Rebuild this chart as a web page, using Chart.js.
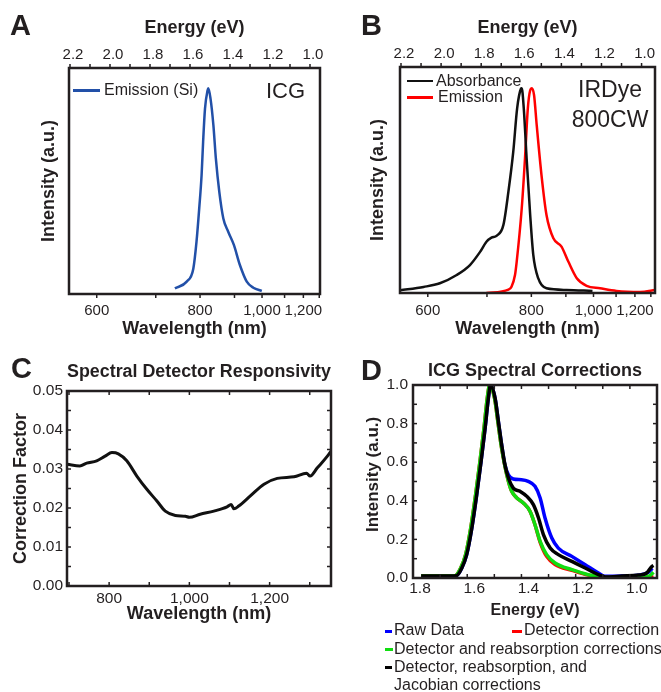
<!DOCTYPE html>
<html>
<head>
<meta charset="utf-8">
<script src="https://cdn.jsdelivr.net/npm/chart.js@4.4.1/dist/chart.umd.min.js"></script>
<style>
  body { margin: 0; background: #fff; width: 661px; height: 692px; position: relative; overflow: hidden;
         font-family: 'Liberation Sans', Arial, sans-serif; color: #231f20; }
  canvas { position: absolute; }
  .txt { position: absolute; white-space: nowrap; line-height: 1; }
  .letter { font-weight: bold; font-size: 29px; }
  .key { position: absolute; }
</style>
</head>
<body>
<canvas id="chartA" width="330" height="345" style="left:0;top:0"></canvas>
<canvas id="chartB" width="331" height="345" style="left:330px;top:0"></canvas>
<canvas id="chartC" width="340" height="290" style="left:0;top:345px"></canvas>
<canvas id="chartD" width="321" height="347" style="left:340px;top:345px"></canvas>

<div class="txt letter" style="left:10px;top:11px">A</div>
<div class="txt letter" style="left:361px;top:11px">B</div>
<div class="txt letter" style="left:11px;top:354px">C</div>
<div class="txt letter" style="left:361px;top:356px">D</div>

<!-- panel A key and label -->
<div class="key" style="left:73px;top:89px;width:27px;height:2.5px;background:#2250a8"></div>
<div class="txt" style="left:104px;top:82px;font-size:16px">Emission (Si)</div>
<div class="txt" style="left:266px;top:80px;font-size:22px">ICG</div>

<!-- panel B key and label -->
<div class="key" style="left:407px;top:79.5px;width:26px;height:2.5px;background:#111"></div>
<div class="txt" style="left:436px;top:73px;font-size:16px">Absorbance</div>
<div class="key" style="left:407px;top:96px;width:26px;height:2.5px;background:#ff0000"></div>
<div class="txt" style="left:438px;top:89px;font-size:16px">Emission</div>
<div class="txt" style="left:560px;top:77.5px;width:100px;text-align:center;font-size:23px">IRDye</div>
<div class="txt" style="left:560px;top:107.5px;width:100px;text-align:center;font-size:23px">800CW</div>

<!-- panel D legend -->
<div class="key" style="left:385px;top:629.5px;width:7px;height:3px;background:#0000ff"></div>
<div class="txt" style="left:394px;top:622px;font-size:16px">Raw Data</div>
<div class="key" style="left:512px;top:629.5px;width:10px;height:3px;background:#ff0000"></div>
<div class="txt" style="left:524px;top:622px;font-size:16px">Detector correction</div>
<div class="key" style="left:385px;top:647.5px;width:8px;height:3px;background:#11dd11"></div>
<div class="txt" style="left:394px;top:641px;font-size:16px">Detector and reabsorption corrections</div>
<div class="key" style="left:385px;top:666px;width:7px;height:3px;background:#000"></div>
<div class="txt" style="left:394px;top:659px;font-size:16px">Detector, reabsorption, and</div>
<div class="txt" style="left:394px;top:677px;font-size:16px">Jacobian corrections</div>

<script>
'use strict';

const HC = 1239.84; // eV*nm, wavelength <-> energy
const INK = '#231f20';

// ---- panel A: ICG emission (Si detector)
const waveA = [740, 767, 783, 791, 798, 804, 808, 813, 820, 822, 828, 836, 843, 853, 865, 880, 898, 918, 942, 966, 999];
const emisA = [0.013, 0.046, 0.11, 0.243, 0.41, 0.571, 0.735, 0.9, 0.99, 1.0, 0.949, 0.818, 0.654, 0.489, 0.358, 0.292, 0.227, 0.128, 0.046, 0.016, 0.0];

// ---- panel B: IRDye 800CW
const waveAbsB = [562, 594, 618, 645, 668, 687, 699, 709, 720, 734, 745, 756, 765, 774, 776, 781, 788, 797, 805, 818, 841, 902, 996];
const absB = [0.003, 0.02, 0.038, 0.079, 0.128, 0.194, 0.243, 0.263, 0.273, 0.326, 0.49, 0.687, 0.901, 0.997, 1.0, 0.9, 0.655, 0.375, 0.178, 0.063, 0.013, 0.005, 0.0];
const waveEmB = [699, 745, 752, 760, 764, 776, 784, 791, 797, 801, 807, 814, 827, 841, 861, 886, 908, 937, 973, 1027, 1102, 1230, 1335];
const emB = [-0.01, 0.007, 0.021, 0.079, 0.145, 0.408, 0.655, 0.9, 0.99, 1.0, 0.967, 0.819, 0.572, 0.375, 0.26, 0.219, 0.145, 0.063, 0.025, 0.013, 0.0, -0.005, 0.005];

// shared axes of A and B
const energyTicks = [2.2, 2.1, 2.0, 1.9, 1.8, 1.7, 1.6, 1.5, 1.4, 1.3, 1.2, 1.1, 1.0];
const energyLabels = [2.2, 2.0, 1.8, 1.6, 1.4, 1.2, 1.0];
const waveTicks = [600, 700, 800, 900, 1000, 1100, 1200, 1300];
const waveLabels = [600, 800, 1000, 1200];

// ---- panel C: detector responsivity
const waveC = [696, 727, 744, 769, 790, 807, 823, 844, 869, 894, 919, 940, 965, 990, 1000, 1027, 1061, 1094, 1104, 1111, 1123, 1152, 1186, 1219, 1261, 1292, 1301, 1319, 1344, 1353];
const corrC = [0.0312, 0.0308, 0.0315, 0.0321, 0.0333, 0.0342, 0.0339, 0.0321, 0.0282, 0.0248, 0.0218, 0.0192, 0.0181, 0.0179, 0.0176, 0.0184, 0.0192, 0.0203, 0.0209, 0.0198, 0.0205, 0.0231, 0.0261, 0.0276, 0.0280, 0.0289, 0.0282, 0.0303, 0.0333, 0.0346];
const waveTicksC = [700, 800, 900, 1000, 1100, 1200, 1300];
const waveLabelsC = [800, 1000, 1200];
const corrTicks = [0, 0.005, 0.01, 0.015, 0.02, 0.025, 0.03, 0.035, 0.04, 0.045, 0.05];
const corrLabels = [0, 0.01, 0.02, 0.03, 0.04, 0.05];

// ---- panel D: ICG spectral corrections (energy in eV)
const energyRaw = [1.77, 1.70, 1.64, 1.62, 1.602, 1.583, 1.565, 1.549, 1.534, 1.522, 1.514, 1.497, 1.485, 1.473, 1.461, 1.448, 1.43, 1.40, 1.375, 1.35, 1.331, 1.313, 1.288, 1.264, 1.214, 1.165, 1.116, 1.091, 1.03, 0.969, 0.932, 0.917];
const rawD = [0.01, 0.01, 0.012, 0.052, 0.121, 0.259, 0.432, 0.604, 0.777, 0.933, 1.0, 0.93, 0.81, 0.69, 0.587, 0.535, 0.513, 0.509, 0.501, 0.475, 0.415, 0.311, 0.207, 0.155, 0.112, 0.069, 0.026, 0.009, 0.01, 0.015, 0.03, 0.05];
const energyDet = [1.77, 1.70, 1.645, 1.624, 1.606, 1.587, 1.569, 1.553, 1.538, 1.526, 1.517, 1.499, 1.486, 1.474, 1.461, 1.448, 1.436, 1.417, 1.393, 1.368, 1.35, 1.331, 1.307, 1.276, 1.214, 1.153, 1.091, 1.03, 0.969, 0.925, 0.913];
const detD = [0.01, 0.01, 0.012, 0.052, 0.121, 0.259, 0.432, 0.604, 0.777, 0.933, 1.0, 0.93, 0.8, 0.68, 0.58, 0.501, 0.449, 0.415, 0.389, 0.345, 0.276, 0.185, 0.112, 0.07, 0.04, 0.015, 0.003, 0.003, 0.003, 0.004, 0.005];
const energyReab = [1.77, 1.70, 1.645, 1.624, 1.606, 1.587, 1.569, 1.553, 1.538, 1.526, 1.517, 1.499, 1.486, 1.474, 1.461, 1.448, 1.436, 1.417, 1.393, 1.368, 1.35, 1.331, 1.307, 1.276, 1.214, 1.153, 1.091, 1.03, 0.969, 0.925, 0.913];
const reabD = [0.01, 0.01, 0.012, 0.052, 0.121, 0.259, 0.432, 0.604, 0.777, 0.933, 1.0, 0.93, 0.8, 0.68, 0.58, 0.501, 0.449, 0.415, 0.389, 0.345, 0.276, 0.19, 0.121, 0.078, 0.043, 0.017, 0.003, 0.003, 0.003, 0.013, 0.03];
const energyJac = [1.77, 1.70, 1.64, 1.62, 1.602, 1.583, 1.565, 1.549, 1.534, 1.522, 1.514, 1.497, 1.485, 1.473, 1.461, 1.448, 1.43, 1.405, 1.38, 1.356, 1.337, 1.319, 1.294, 1.264, 1.214, 1.165, 1.116, 1.091, 1.03, 0.969, 0.938, 0.919, 0.913];
const jacD = [0.01, 0.01, 0.012, 0.052, 0.121, 0.259, 0.432, 0.604, 0.777, 0.933, 1.0, 0.93, 0.81, 0.69, 0.587, 0.518, 0.466, 0.449, 0.423, 0.38, 0.311, 0.225, 0.155, 0.121, 0.086, 0.052, 0.017, 0.005, 0.01, 0.015, 0.026, 0.06, 0.065];
const energyTicksD = [1.8, 1.7, 1.6, 1.5, 1.4, 1.3, 1.2, 1.1, 1.0, 0.9];
const energyLabelsD = [1.8, 1.6, 1.4, 1.2, 1.0];
const intTicksD = [0, 0.1, 0.2, 0.3, 0.4, 0.5, 0.6, 0.7, 0.8, 0.9, 1.0];
const intLabelsD = [0, 0.2, 0.4, 0.6, 0.8, 1.0];

Chart.defaults.font.family = "'Liberation Sans', Arial, sans-serif";
Chart.defaults.color = INK;

// helpers
function pts(xs, ys, conv) {
  return xs.map((x, i) => ({ x: conv ? conv(x) : x, y: ys[i] }));
}
function fixedTicks(vals) {
  return (s) => { s.ticks = vals.map(v => ({ value: v })); };
}
function fixSize(px) {
  return (s) => { if (s.isHorizontal()) s.height = px; else s.width = px; };
}
function has(list, v) {
  return list.some(l => Math.abs(l - v) < 1e-6);
}
// library grid off (tick marks are drawn by the frame plugin), tick length 0 for label placement
const noGrid = { display: false, drawTicks: false };
function title(text, size, pad) {
  return { display: true, text: text, color: INK, font: { size: size, weight: 'bold' }, padding: pad };
}
function line(data, color, width) {
  return { data: data, borderColor: color, borderWidth: width, pointRadius: 0, fill: false,
           cubicInterpolationMode: 'monotone' };
}

// thick frame around the plot area, plus tick marks (positive = outward, negative = inward)
const frame = {
  id: 'frame',
  afterDatasetsDraw(chart, args, opts) {
    const a = chart.chartArea;
    const ctx = chart.ctx;
    ctx.save();
    ctx.strokeStyle = INK;
    ctx.lineWidth = 1.5;
    const marks = opts.marks || {};
    for (const id in marks) {
      const s = chart.scales[id];
      const len = marks[id];
      s.ticks.forEach(t => {
        const p = s.getPixelForValue(t.value);
        ctx.beginPath();
        if (s.position === 'bottom') { ctx.moveTo(p, a.bottom); ctx.lineTo(p, a.bottom + len); }
        if (s.position === 'top') { ctx.moveTo(p, a.top); ctx.lineTo(p, a.top - len); }
        if (s.position === 'left') { ctx.moveTo(a.left, p); ctx.lineTo(a.left - len, p); }
        if (s.position === 'right') { ctx.moveTo(a.right, p); ctx.lineTo(a.right + len, p); }
        ctx.stroke();
      });
    }
    ctx.lineWidth = 2.5;
    ctx.strokeRect(a.left, a.top, a.right - a.left, a.bottom - a.top);
    ctx.restore();
  }
};

function baseOptions(marks) {
  return {
    responsive: false,
    animation: false,
    events: [],
    plugins: { legend: { display: false }, tooltip: { enabled: false }, frame: { marks: marks } }
  };
}

// scales for panels A and B: linear in energy, wavelength labels on the bottom
function spectrumScales(eMin, eMax, left, right, yMin, yMax, pads) {
  return {
    x: {
      type: 'linear', axis: 'x', position: 'bottom', reverse: true, min: eMin, max: eMax,
      afterBuildTicks: fixedTicks(waveTicks.map(w => HC / w)),
      afterFit: fixSize(pads.bottom),
      grid: noGrid, border: { display: false },
      ticks: { autoSkip: false, maxRotation: 0, padding: pads.tickBottom, font: { size: 15 },
               callback: (v) => { const w = Math.round(HC / v); return has(waveLabels, w) ? w.toLocaleString('en-US') : ''; } },
      title: title('Wavelength (nm)', 18, { top: 0, bottom: 5 })
    },
    x2: {
      type: 'linear', axis: 'x', position: 'top', reverse: true, min: eMin, max: eMax,
      afterBuildTicks: fixedTicks(energyTicks),
      afterFit: fixSize(pads.top),
      grid: noGrid, border: { display: false },
      ticks: { autoSkip: false, maxRotation: 0, padding: 4, labelOffset: 3, font: { size: 15 },
               callback: (v) => has(energyLabels, v) ? v.toFixed(1) : '' },
      title: title('Energy (eV)', 18, { top: 17, bottom: 0 })
    },
    y: {
      type: 'linear', position: 'left', min: yMin, max: yMax,
      afterFit: fixSize(left),
      grid: noGrid, border: { display: false },
      ticks: { callback: () => '' },
      title: title('Intensity (a.u.)', 18, { top: pads.yTitle, bottom: 0 })
    },
    y2: {
      type: 'linear', position: 'right', min: yMin, max: yMax,
      afterFit: fixSize(right),
      grid: noGrid, border: { display: false },
      ticks: { callback: () => '' }
    }
  };
}

// Panel A
new Chart(document.getElementById('chartA'), {
  type: 'line',
  data: { datasets: [line(pts(waveA, emisA, w => HC / w), '#2250a8', 2.5)] },
  options: Object.assign(baseOptions({ x: 4, x2: 4 }), {
    scales: spectrumScales(0.95, 2.205, 69, 10, -0.015, 1.1,
      { top: 68, bottom: 51, tickBottom: 8, yTitle: 38 })
  }),
  plugins: [frame]
});

// Panel B
new Chart(document.getElementById('chartB'), {
  type: 'line',
  data: {
    datasets: [
      line(pts(waveAbsB, absB, w => HC / w), '#111111', 2.5),
      line(pts(waveEmB, emB, w => HC / w), '#ff0000', 2.5)
    ]
  },
  options: Object.assign(baseOptions({ x: 4, x2: 4 }), {
    scales: spectrumScales(0.933, 2.205, 70, 6, -0.01, 1.105,
      { top: 67, bottom: 52, tickBottom: 9, yTitle: 37.5 })
  }),
  plugins: [frame]
});

// Panel C
new Chart(document.getElementById('chartC'), {
  type: 'line',
  data: { datasets: [line(pts(waveC, corrC), '#111111', 3)] },
  options: Object.assign(baseOptions({ x: -4, x2: -4, y: -4, y2: -4 }), {
    scales: {
      x: {
        type: 'linear', position: 'bottom', min: 695, max: 1353,
        afterBuildTicks: fixedTicks(waveTicksC), afterFit: fixSize(49),
        grid: noGrid, border: { display: false },
        ticks: { autoSkip: false, maxRotation: 0, padding: 3, font: { size: 15.5 },
                 callback: (v) => has(waveLabelsC, v) ? v.toLocaleString('en-US') : '' },
        title: title('Wavelength (nm)', 18, { top: 0, bottom: 10 })
      },
      x2: {
        type: 'linear', axis: 'x', position: 'top', min: 695, max: 1353,
        afterBuildTicks: fixedTicks(waveTicksC), afterFit: fixSize(46),
        grid: noGrid, border: { display: false },
        ticks: { callback: () => '' },
        title: title('Spectral Detector Responsivity', 18, { top: 16, bottom: 0 })
      },
      y: {
        type: 'linear', position: 'left', min: 0, max: 0.05,
        afterBuildTicks: fixedTicks(corrTicks), afterFit: fixSize(67),
        grid: noGrid, border: { display: false },
        ticks: { autoSkip: false, padding: 4, font: { size: 15.5 },
                 callback: (v) => has(corrLabels, v) ? v.toFixed(2) : '' },
        title: title('Correction Factor', 18, { top: 10, bottom: 0 })
      },
      y2: {
        type: 'linear', position: 'right', min: 0, max: 0.05,
        afterBuildTicks: fixedTicks(corrTicks), afterFit: fixSize(9),
        grid: noGrid, border: { display: false },
        ticks: { callback: () => '' }
      }
    }
  }),
  plugins: [frame]
});

// Panel D (first dataset is drawn on top)
new Chart(document.getElementById('chartD'), {
  type: 'line',
  data: {
    datasets: [
      line(pts(energyJac, jacD), '#000000', 3.5),
      line(pts(energyReab, reabD), '#11dd11', 3.5),
      line(pts(energyDet, detD), '#ff0000', 3.5),
      line(pts(energyRaw, rawD), '#0000ff', 3.5)
    ]
  },
  options: Object.assign(baseOptions({ x: -4, x2: -4, y: -4, y2: -4 }), {
    layout: { padding: { bottom: 69 } },
    scales: {
      x: {
        type: 'linear', position: 'bottom', reverse: true, min: 0.9, max: 1.8,
        afterBuildTicks: fixedTicks(energyTicksD), afterFit: fixSize(45),
        grid: noGrid, border: { display: false },
        ticks: { autoSkip: false, maxRotation: 0, padding: 1, labelOffset: 7, font: { size: 15.5 },
                 callback: (v) => has(energyLabelsD, v) ? v.toFixed(1) : '' },
        title: title('Energy (eV)', 16, { top: 0, bottom: 3 })
      },
      x2: {
        type: 'linear', axis: 'x', position: 'top', reverse: true, min: 0.9, max: 1.8,
        afterBuildTicks: fixedTicks(energyTicksD), afterFit: fixSize(40),
        grid: noGrid, border: { display: false },
        ticks: { callback: () => '' },
        title: title('ICG Spectral Corrections', 18, { top: 15, bottom: 0 })
      },
      y: {
        type: 'linear', position: 'left', min: 0, max: 1,
        afterBuildTicks: fixedTicks(intTicksD), afterFit: fixSize(73),
        grid: noGrid, border: { display: false },
        ticks: { autoSkip: false, padding: 5, font: { size: 15.5 },
                 callback: (v) => has(intLabelsD, v) ? v.toFixed(1) : '' },
        title: title('   Intensity (a.u.)', 17, { top: 23.5, bottom: 0 })
      },
      y2: {
        type: 'linear', position: 'right', min: 0, max: 1,
        afterBuildTicks: fixedTicks(intTicksD), afterFit: fixSize(4),
        grid: noGrid, border: { display: false },
        ticks: { callback: () => '' }
      }
    }
  }),
  plugins: [frame]
});
</script>
</body>
</html>
